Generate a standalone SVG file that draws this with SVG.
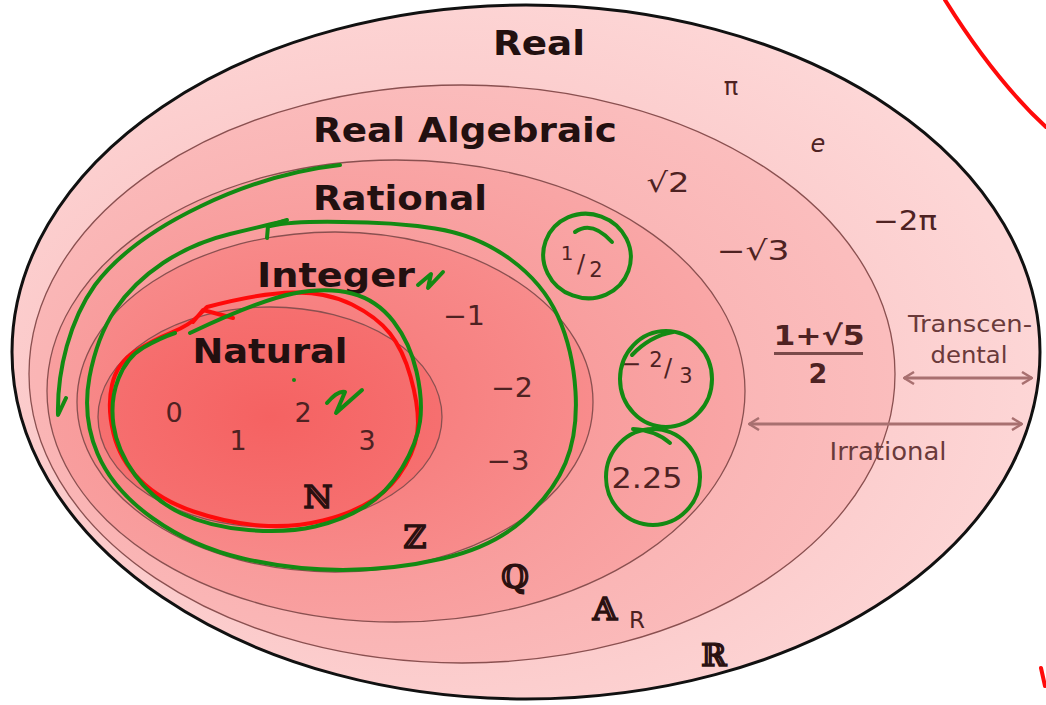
<svg xmlns="http://www.w3.org/2000/svg" width="1046" height="705" viewBox="0 0 1046 705">
<defs>
<style>
.lbl{font-family:"DejaVu Sans","Liberation Sans",sans-serif;font-weight:bold;fill:#221010;text-anchor:middle}
.num{font-family:"DejaVu Sans","Liberation Sans",sans-serif;fill:#4e2222;text-anchor:middle}
.sym{font-family:"DejaVu Serif","DejaVu Sans",serif;fill:#2a1010;stroke:#2a1010;stroke-width:1.3;text-anchor:middle}
.txt{font-family:"DejaVu Sans","Liberation Sans",sans-serif;fill:#6a3a3a;text-anchor:middle}
.edge{stroke:#8a5050;stroke-width:1.3}
.grn{fill:none;stroke:#138a13;stroke-width:4;stroke-linecap:round;stroke-linejoin:round}
.red{fill:none;stroke:#ff0a0a;stroke-width:4;stroke-linecap:round;stroke-linejoin:round}
.arr{fill:none;stroke:#a87070;stroke-width:3;marker-start:url(#ah);marker-end:url(#ah)}
</style>
<radialGradient id="gR" cx="0.4" cy="0.55" r="0.6"><stop offset="0" stop-color="#f9b8b8"/><stop offset="1" stop-color="#fdd6d6"/></radialGradient>
<radialGradient id="gA" cx="0.4" cy="0.55" r="0.6"><stop offset="0" stop-color="#f8a6a6"/><stop offset="1" stop-color="#fbbdbd"/></radialGradient>
<radialGradient id="gQ" cx="0.4" cy="0.55" r="0.6"><stop offset="0" stop-color="#f78e8e"/><stop offset="1" stop-color="#f9a6a6"/></radialGradient>
<radialGradient id="gZ" cx="0.45" cy="0.5" r="0.6"><stop offset="0" stop-color="#f67676"/><stop offset="1" stop-color="#f88e8e"/></radialGradient>
<radialGradient id="gN" cx="0.5" cy="0.5" r="0.6"><stop offset="0" stop-color="#f56262"/><stop offset="1" stop-color="#f67272"/></radialGradient>
<marker id="ah" viewBox="0 0 12 14" refX="11" refY="7" markerWidth="12" markerHeight="14" orient="auto-start-reverse" markerUnits="userSpaceOnUse"><path d="M1,1 L11,7 L1,13" fill="none" stroke="#a87070" stroke-width="2.5"/></marker>
</defs>
<rect width="1046" height="705" fill="#ffffff"/>

<g id="real">
<ellipse cx="526" cy="352" rx="514" ry="347" fill="url(#gR)" stroke="#111" stroke-width="3"/>
<text class="lbl" x="539" y="55" font-size="34" textLength="92" lengthAdjust="spacingAndGlyphs">Real</text>
<text class="num" x="731" y="95" font-size="24">π</text>
<text class="num" x="818" y="152" font-size="24" font-style="italic">e</text>
<text class="num" x="905" y="230" font-size="26" textLength="64" lengthAdjust="spacingAndGlyphs">−2π</text>
<text class="sym" x="714" y="666" font-size="31">ℝ</text>
</g>

<g id="real-algebraic">
<ellipse cx="462" cy="374" rx="433" ry="289" fill="url(#gA)" class="edge"/>
<text class="lbl" x="465" y="142" font-size="34" textLength="304" lengthAdjust="spacingAndGlyphs">Real Algebraic</text>
<text class="num" x="668" y="192" font-size="27" textLength="43" lengthAdjust="spacingAndGlyphs">√2</text>
<text class="num" x="753" y="260" font-size="27" textLength="73" lengthAdjust="spacingAndGlyphs">−√3</text>
<text class="num" x="819" y="345" font-size="27" font-weight="bold" textLength="91" lengthAdjust="spacingAndGlyphs">1+√5</text>
<rect x="774" y="352" width="89" height="3" fill="#7a4a4a"/>
<text class="num" x="818" y="383" font-size="27" font-weight="bold">2</text>
<text class="sym" x="605" y="620" font-size="32">𝔸</text>
<text class="num" x="637" y="628" font-size="23">R</text>
</g>

<g id="rational">
<ellipse cx="396" cy="391" rx="349" ry="231" fill="url(#gQ)" class="edge"/>
<text class="lbl" x="400" y="210" font-size="34" textLength="174" lengthAdjust="spacingAndGlyphs">Rational</text>
<text class="num" x="567" y="260" font-size="20">1</text>
<text class="num" x="581" y="272" font-size="24">/</text>
<text class="num" x="596" y="277" font-size="21">2</text>
<text class="num" x="631" y="372" font-size="24">−</text>
<text class="num" x="656" y="367" font-size="21">2</text>
<text class="num" x="668" y="376" font-size="24">/</text>
<text class="num" x="686" y="383" font-size="21">3</text>
<text class="num" x="647" y="488" font-size="28" textLength="71" lengthAdjust="spacingAndGlyphs">2.25</text>
<text class="sym" x="515" y="588" font-size="32">ℚ</text>
</g>

<g id="integer">
<ellipse cx="335" cy="402" rx="258" ry="170" fill="url(#gZ)" class="edge"/>
<text class="lbl" x="336" y="287" font-size="34" textLength="158" lengthAdjust="spacingAndGlyphs">Integer</text>
<text class="num" x="464" y="325" font-size="27" textLength="42" lengthAdjust="spacingAndGlyphs">−1</text>
<text class="num" x="512" y="397" font-size="27" textLength="42" lengthAdjust="spacingAndGlyphs">−2</text>
<text class="num" x="508" y="470" font-size="27" textLength="43" lengthAdjust="spacingAndGlyphs">−3</text>
<text class="sym" x="415" y="548" font-size="32">ℤ</text>
</g>

<g id="natural">
<ellipse cx="270" cy="417" rx="172" ry="110" fill="url(#gN)" class="edge"/>
<text class="lbl" x="270" y="363" font-size="34" textLength="155" lengthAdjust="spacingAndGlyphs">Natural</text>
<text class="num" x="174" y="422" font-size="27">0</text>
<text class="num" x="238" y="450" font-size="27">1</text>
<text class="num" x="303" y="422" font-size="27">2</text>
<text class="num" x="367" y="450" font-size="27">3</text>
<text class="sym" x="318" y="508" font-size="32">ℕ</text>
</g>

<g id="classes">
<text class="txt" x="970" y="332" font-size="23" textLength="124" lengthAdjust="spacingAndGlyphs">Transcen-</text>
<text class="txt" x="969" y="363" font-size="23" textLength="77" lengthAdjust="spacingAndGlyphs">dental</text>
<text class="txt" x="888" y="460" font-size="24" textLength="117" lengthAdjust="spacingAndGlyphs">Irrational</text>
</g>

<g id="connectors">
<line class="arr" x1="904" y1="378" x2="1032" y2="378"/>
<line class="arr" x1="749" y1="424" x2="1022" y2="424"/>
</g>

<g id="annotations">
<path class="grn" d="M340,165 C250,175 140,225 95,285 C70,320 57,370 58,415 L66,398"/>
<path class="grn" d="M270,226 Q293,221 343,222 Q393,222 435,228.5 Q477,235 510,259 Q543,283 558,316.5 Q573,350 575.5,391.5 Q578,433 565.5,463 Q553,493 523,520 Q493,547 443,558.5 Q393,570 343,570 Q293,570 243,558.5 Q193,547 153,518.5 Q113,490 97.5,453.5 Q82,417 89.5,377 Q97,337 115,310 Q133,283 163,263 Q193,243 230,234 Q267,225 285,221"/>
<path class="grn" d="M267,238 L268,226 L287,220"/>
<path class="red" d="M193,322 L203,310 L233,318 M207,307 Q260,293 293.5,292.5 Q327,292 352,304.5 Q377,317 390,333.5 Q403,350 410.5,376.5 Q418,403 418,423 Q418,443 405.5,465 Q393,487 373,500 Q353,513 323,520.5 Q293,528 260,525.5 Q227,523 193.5,511.5 Q160,500 140,480 Q120,460 113.5,433.5 Q107,407 112,385 Q117,363 135,351.5 Q153,340 171.5,332.5 Q190,325 198,316 L207,307"/>
<path class="grn" d="M190,333 Q260,300 293.5,293.5 Q327,287 352,293.5 Q377,300 393.5,321.5 Q410,343 416.5,371.5 Q423,400 420,421.5 Q417,443 402,468 Q387,493 365,506.5 Q343,520 315,526.5 Q287,533 248.5,530 Q210,527 181.5,513.5 Q153,500 135,475 Q117,450 113.5,425 Q110,400 118.5,378.5 Q127,357 143.5,347.5 Q160,338 175,333"/>
<path class="grn" stroke-width="3" d="M418,285 L431,274 L428,288 L443,272"/>
<path class="grn" stroke-width="3" d="M327,403 Q338,390 345,392 L336,413 L362,390"/>
<circle cx="294" cy="380" r="2" fill="#138a13"/>
<ellipse class="grn" cx="587" cy="256" rx="44" ry="42" transform="rotate(20 587 256)"/>
<path class="grn" d="M575,232 Q592,220 612,242"/>
<ellipse class="grn" cx="666" cy="379" rx="46" ry="48"/>
<path class="grn" d="M632,355 Q650,336 673,332"/>
<ellipse class="grn" cx="653" cy="477" rx="47" ry="48"/>
<path class="grn" d="M633,429 Q655,430 670,443"/>
<path class="red" d="M945,0 Q995,80 1046,127"/>
<path class="red" d="M1041,668 L1045,686"/>
</g>
</svg>
